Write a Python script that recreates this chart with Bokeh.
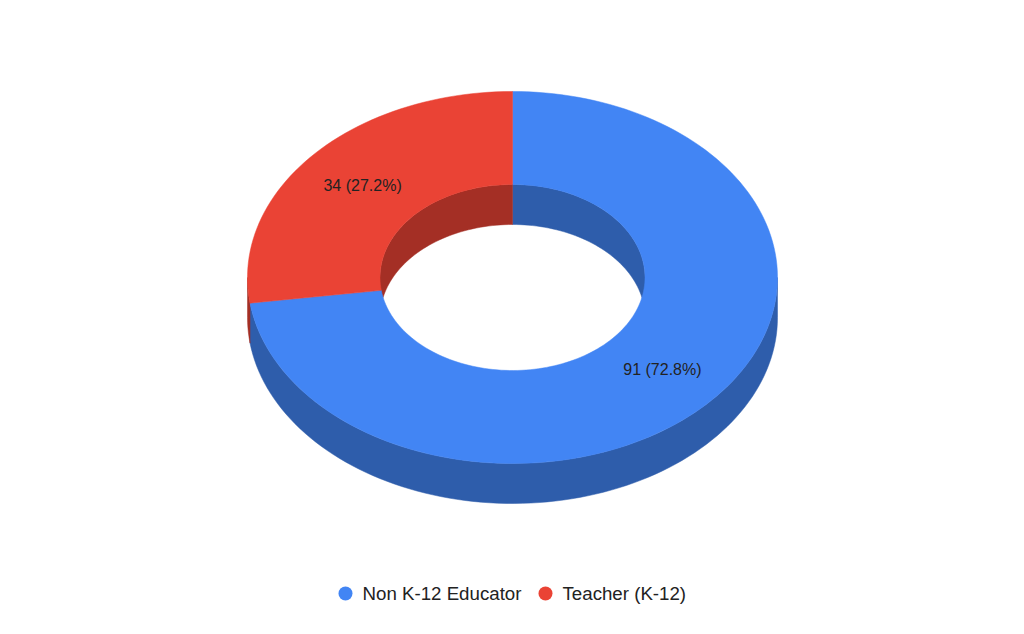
import numpy as np
from bokeh.plotting import figure
from bokeh.models import Range1d
from bokeh.core.properties import value
from bokeh.embed import file_html
from bokeh.resources import INLINE

# Data
categories = ["Non K-12 Educator", "Teacher (K-12)"]
counts = [91, 34]
top_colors = ["#4285F4", "#EA4335"]
side_colors = ["#2E5DAB", "#A42F25"]

# Layout of the 3D donut (pixel space, y grows downward)
W, H = 1024, 634
CX, CY = 512, 277
RX, RY = 265, 186
HOLE = 0.5
DEPTH = 40
FONT = "Liberation Sans"

p = figure(width=W, height=H, output_backend="svg", toolbar_location=None,
           x_range=Range1d(0, W), y_range=Range1d(H, 0), min_border=0)
p.axis.visible = False
p.grid.visible = False
p.outline_line_color = None
p.background_fill_color = "white"
p.border_fill_color = "white"


def pt(t, scale, dy=0.0):
    # t: angle clockwise from 12 o'clock, radians
    return CX + RX * scale * np.sin(t), CY - RY * scale * np.cos(t) + dy


total = float(sum(counts))
fracs = [c / total for c in counts]
starts = np.cumsum([0.0] + fracs[:-1]) * 2 * np.pi
ends = starts + np.array(fracs) * 2 * np.pi


def arc(a, b, n=200):
    return np.linspace(a, b, max(int(n * (b - a) / (2 * np.pi)) + 2, 3))


# Outer side walls: only the front half (pi/2 .. 3pi/2) faces the viewer
side_xs, side_ys, side_cols = [], [], []
for s, e, c in zip(starts, ends, side_colors):
    a, b = max(s, np.pi / 2), min(e, 3 * np.pi / 2)
    if b <= a:
        continue
    t = arc(a, b)
    x1, y1 = pt(t, 1.0)
    x2, y2 = pt(t[::-1], 1.0, DEPTH)
    side_xs.append(list(np.r_[x1, x2]))
    side_ys.append(list(np.r_[y1, y2]))
    side_cols.append(c)
p.patches(side_xs, side_ys, fill_color=side_cols, line_color=side_cols, line_width=0.5)

# Inner walls: back half of the hole (3pi/2 .. 5pi/2) is visible
in_xs, in_ys, in_cols = [], [], []
for s, e, c in zip(starts, ends, side_colors):
    for lo, hi in [(3 * np.pi / 2, 2 * np.pi), (0.0, np.pi / 2)]:
        a, b = max(s, lo), min(e, hi)
        if b <= a:
            continue
        t = arc(a, b)
        x1, y1 = pt(t, HOLE)
        x2, y2 = pt(t[::-1], HOLE, DEPTH)
        in_xs.append(list(np.r_[x1, x2]))
        in_ys.append(list(np.r_[y1, y2]))
        in_cols.append(c)
p.patches(in_xs, in_ys, fill_color=in_cols, line_color=in_cols, line_width=0.5)

# Top faces of the ring slices
top_xs, top_ys = [], []
for s, e in zip(starts, ends):
    t = arc(s, e)
    xo, yo = pt(t, 1.0)
    xi, yi = pt(t[::-1], HOLE)
    top_xs.append(list(np.r_[xo, xi]))
    top_ys.append(list(np.r_[yo, yi]))
p.patches(top_xs, top_ys, fill_color=top_colors, line_color=top_colors, line_width=0.5)

# Slice labels at mid-angle, mid-radius
mids = (starts + ends) / 2
lx, ly = pt(mids, (1 + HOLE) / 2)
labels = [f"{c} ({f * 100:.1f}%)" for c, f in zip(counts, fracs)]
p.text(x=list(lx), y=list(ly), text=labels, text_font=value(FONT),
       text_font_size="16px", text_color="#222222",
       text_align="center", text_baseline="middle")

# Legend
leg_y = 593
dot_x = [345, 545]
p.scatter(x=dot_x, y=[leg_y] * 2, size=14, marker="circle",
          fill_color=top_colors, line_color=None)
p.text(x=[d + 17 for d in dot_x], y=[leg_y] * 2, text=categories,
       text_font=value(FONT), text_font_size="18.7px", text_color="#222222",
       text_align="left", text_baseline="middle")

open("out.html", "w").write(file_html(p, INLINE))
